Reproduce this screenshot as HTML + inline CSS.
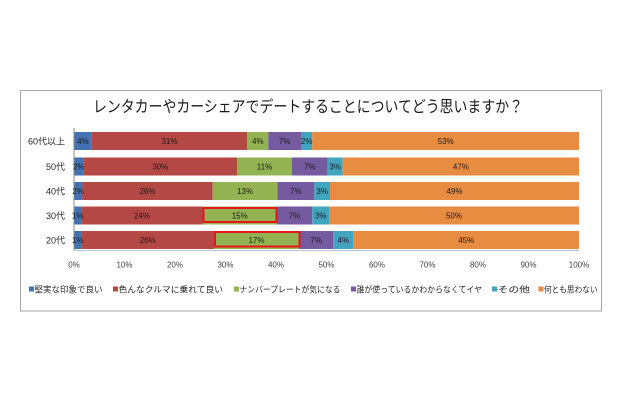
<!DOCTYPE html>
<html><head><meta charset="utf-8"><style>
html,body{margin:0;padding:0;background:#fff;}
svg{display:block;}
text{font-family:"Liberation Sans","Noto Sans CJK JP",sans-serif;}
</style></head><body>
<svg width="623" height="420" viewBox="0 0 623 420" xmlns="http://www.w3.org/2000/svg">
<rect x="0" y="0" width="623" height="420" fill="#fff"/>
<rect x="20.5" y="90.5" width="581" height="220.5" fill="#fff" stroke="#a6a6a6" stroke-width="1"/>
<text x="93" y="112" font-size="16" fill="#1a1a1a" textLength="430" lengthAdjust="spacingAndGlyphs">レンタカーやカーシェアでデートすることについてどう思いますか？</text>

<!-- bars -->
<g>
<rect x="74" y="132" width="17.7" height="18" fill="#4272b2"/>
<rect x="91.7" y="132" width="155.6" height="18" fill="#b44845"/>
<rect x="247.3" y="132" width="21" height="18" fill="#93b352"/>
<rect x="268.3" y="132" width="32.7" height="18" fill="#765aa0"/>
<rect x="301" y="132" width="11.3" height="18" fill="#42a5c0"/>
<rect x="312.3" y="132" width="266.7" height="18" fill="#e88c42"/>

<rect x="74" y="157.5" width="9.3" height="18" fill="#4272b2"/>
<rect x="83.3" y="157.5" width="153.7" height="18" fill="#b44845"/>
<rect x="237" y="157.5" width="55" height="18" fill="#93b352"/>
<rect x="292" y="157.5" width="35.7" height="18" fill="#765aa0"/>
<rect x="327.7" y="157.5" width="15" height="18" fill="#42a5c0"/>
<rect x="342.7" y="157.5" width="236.3" height="18" fill="#e88c42"/>

<rect x="74" y="182" width="8.3" height="18" fill="#4272b2"/>
<rect x="82.3" y="182" width="130.4" height="18" fill="#b44845"/>
<rect x="212.7" y="182" width="64.6" height="18" fill="#93b352"/>
<rect x="277.3" y="182" width="37" height="18" fill="#765aa0"/>
<rect x="314.3" y="182" width="15.7" height="18" fill="#42a5c0"/>
<rect x="330" y="182" width="249" height="18" fill="#e88c42"/>

<rect x="74" y="206.5" width="7.3" height="18" fill="#4272b2"/>
<rect x="81.3" y="206.5" width="121.4" height="18" fill="#b44845"/>
<rect x="202.7" y="206.5" width="74" height="18" fill="#93b352"/>
<rect x="276.7" y="206.5" width="35.6" height="18" fill="#765aa0"/>
<rect x="312.3" y="206.5" width="16.7" height="18" fill="#42a5c0"/>
<rect x="329" y="206.5" width="250" height="18" fill="#e88c42"/>

<rect x="74" y="231" width="7.3" height="18" fill="#4272b2"/>
<rect x="81.3" y="231" width="132.7" height="18" fill="#b44845"/>
<rect x="214" y="231" width="85" height="18" fill="#93b352"/>
<rect x="299" y="231" width="34.3" height="18" fill="#765aa0"/>
<rect x="333.3" y="231" width="20" height="18" fill="#42a5c0"/>
<rect x="353.3" y="231" width="225.7" height="18" fill="#e88c42"/>
</g>

<!-- red highlight boxes -->
<rect x="203.5" y="208" width="73" height="14" fill="none" stroke="#e8141b" stroke-width="2"/>
<rect x="215" y="232" width="84.5" height="14.5" fill="none" stroke="#e8141b" stroke-width="2"/>

<!-- axes -->
<line x1="74" y1="128" x2="74" y2="250.5" stroke="#8c8c8c" stroke-width="1"/>
<line x1="74" y1="250.5" x2="579" y2="250.5" stroke="#b8c4d4" stroke-width="1"/>

<!-- data labels -->
<g font-size="8" fill="#1a1a1a" text-anchor="middle">
<text x="82.9" y="144">4%</text><text x="169.5" y="144">31%</text><text x="257.8" y="144">4%</text><text x="284.7" y="144">7%</text><text x="306.7" y="144">2%</text><text x="445.7" y="144">53%</text>
<text x="78.7" y="169.5">2%</text><text x="160.2" y="169.5">30%</text><text x="264.5" y="169.5">11%</text><text x="309.9" y="169.5">7%</text><text x="335.2" y="169.5">3%</text><text x="460.9" y="169.5">47%</text>
<text x="78.2" y="194">2%</text><text x="147.5" y="194">26%</text><text x="245" y="194">13%</text><text x="295.8" y="194">7%</text><text x="322.2" y="194">3%</text><text x="454.5" y="194">49%</text>
<text x="77.7" y="218.5">1%</text><text x="142" y="218.5">24%</text><text x="239.7" y="218.5">15%</text><text x="294.5" y="218.5">7%</text><text x="320.7" y="218.5">3%</text><text x="454" y="218.5">50%</text>
<text x="77.7" y="243">1%</text><text x="147.7" y="243">26%</text><text x="256.5" y="243">17%</text><text x="316.2" y="243">7%</text><text x="343.3" y="243">4%</text><text x="466.2" y="243">45%</text>
</g>

<!-- category labels -->
<g font-size="9" fill="#262626" text-anchor="end">
<text x="65" y="144.5">60代以上</text>
<text x="65" y="170">50代</text>
<text x="65" y="194.5">40代</text>
<text x="65" y="219">30代</text>
<text x="65" y="243.5">20代</text>
</g>

<!-- x axis labels -->
<g font-size="8" fill="#404040" text-anchor="middle">
<text x="74" y="267.5">0%</text>
<text x="124.5" y="267.5">10%</text>
<text x="175" y="267.5">20%</text>
<text x="225.5" y="267.5">30%</text>
<text x="276" y="267.5">40%</text>
<text x="326.5" y="267.5">50%</text>
<text x="377" y="267.5">60%</text>
<text x="427.5" y="267.5">70%</text>
<text x="478" y="267.5">80%</text>
<text x="528.5" y="267.5">90%</text>
<text x="579" y="267.5">100%</text>
</g>

<!-- legend -->
<g font-size="8.5" fill="#262626">
<rect x="29" y="286.5" width="5" height="5" fill="#4272b2"/>
<text x="34.5" y="292.5" textLength="68" lengthAdjust="spacingAndGlyphs">堅実な印象で良い</text>
<rect x="113" y="286.5" width="5" height="5" fill="#b44845"/>
<text x="118.5" y="292.5" textLength="104.5" lengthAdjust="spacingAndGlyphs">色んなクルマに乗れて良い</text>
<rect x="234" y="286.5" width="5" height="5" fill="#93b352"/>
<text x="239.5" y="292.5" textLength="101" lengthAdjust="spacingAndGlyphs">ナンバープレートが気になる</text>
<rect x="351" y="286.5" width="5" height="5" fill="#765aa0"/>
<text x="356.5" y="292.5" textLength="125.5" lengthAdjust="spacingAndGlyphs">誰が使っているかわからなくてイヤ</text>
<rect x="492" y="286.5" width="5" height="5" fill="#42a5c0"/>
<text x="497.5" y="292.5" textLength="32.5" lengthAdjust="spacingAndGlyphs">その他</text>
<rect x="538.5" y="286.5" width="5" height="5" fill="#e88c42"/>
<text x="544" y="292.5" textLength="53.5" lengthAdjust="spacingAndGlyphs">何とも思わない</text>
</g>
</svg>
</body></html>
